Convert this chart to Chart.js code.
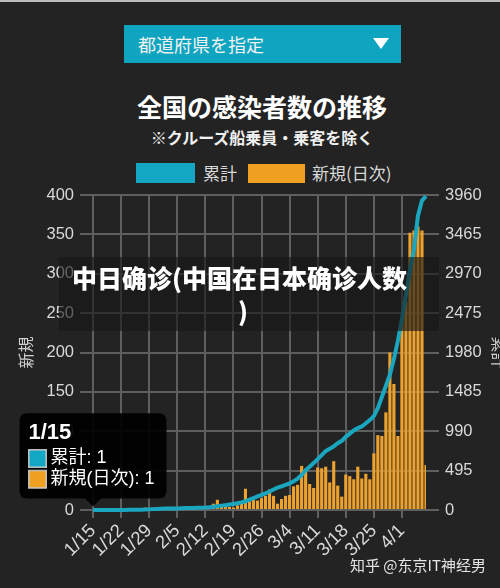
<!DOCTYPE html>
<html>
<head>
<meta charset="utf-8">
<script src="https://cdn.jsdelivr.net/npm/chart.js@4.4.1/dist/chart.umd.min.js"></script>
<style>
  html, body { margin: 0; padding: 0; }
  body { width: 500px; height: 588px; background: #232323; position: relative; overflow: hidden;
         font-family: 'Noto Sans CJK JP', 'Liberation Sans', sans-serif; }
  #topline { position: absolute; left: 0; top: 0; width: 500px; height: 2px; background: #bcbcbc; }
  #pref { position: absolute; left: 124px; top: 25px; width: 277px; height: 38px; background: #0fa4bf; }
  #pref span { position: absolute; left: 14px; top: 0; line-height: 38px; font-size: 18px; color: #f2f2f2; }
  #pref i { position: absolute; left: 249px; top: 13px; width: 0; height: 0;
            border-left: 8px solid transparent; border-right: 8px solid transparent; border-top: 11px solid #fff; }
  #title { position: absolute; left: 0; width: 524px; top: 91px; line-height: 30px; text-align: center;
           font-size: 25px; font-weight: bold; color: #fff; }
  #sub { position: absolute; left: 0; width: 524px; top: 127px; line-height: 20px; text-align: center;
         font-size: 16px; font-weight: bold; color: #f0f0f0; }
  .box { position: absolute; }
  .lbl { position: absolute; top: 163px; line-height: 20px; font-size: 17px; color: #d8d8d8; }
  #c { position: absolute; left: 0; top: 0; }
  #band { position: absolute; left: 59px; top: 257px; width: 380px; height: 74px; background: rgba(22,22,22,0.62);
          font-family: 'Noto Sans CJK SC', sans-serif; font-weight: 900; font-size: 25px; color: #fff; }
  #band span { position: absolute; line-height: 30px; white-space: nowrap; }
  #mark { position: absolute; left: 350px; top: 555px; line-height: 20px; font-size: 15px; color: #e4e4e4;
          font-family: 'Noto Sans CJK SC', sans-serif; white-space: nowrap; }
</style>
</head>
<body>
<div id="topline"></div>
<div id="pref"><span>都道府県を指定</span><i></i></div>
<div id="title">全国の感染者数の推移</div>
<div id="sub">※クルーズ船乗員・乗客を除く</div>
<div class="box" style="left:136px;top:163px;width:59px;height:20px;background:#14a7c3"></div>
<div class="lbl" style="left:203px">累計</div>
<div class="box" style="left:248px;top:164px;width:57px;height:19px;background:#efa020"></div>
<div class="lbl" style="left:312px">新規(日次)</div>
<canvas id="c" width="500" height="588"></canvas>
<div id="band"><span style="left:13px;top:5px">中日确诊(中国在日本确诊人数</span><span style="left:179px;top:38px">)</span></div>
<div id="mark">知乎 @东京IT神经男</div>

<script>
const dates = [
  '1/15','1/16','1/17','1/18','1/19','1/20','1/21','1/22','1/23','1/24','1/25','1/26','1/27','1/28','1/29','1/30','1/31',
  '2/1','2/2','2/3','2/4','2/5','2/6','2/7','2/8','2/9','2/10','2/11','2/12','2/13','2/14','2/15','2/16','2/17','2/18',
  '2/19','2/20','2/21','2/22','2/23','2/24','2/25','2/26','2/27','2/28','2/29',
  '3/1','3/2','3/3','3/4','3/5','3/6','3/7','3/8','3/9','3/10','3/11','3/12','3/13','3/14','3/15','3/16','3/17',
  '3/18','3/19','3/20','3/21','3/22','3/23','3/24','3/25','3/26','3/27','3/28','3/29','3/30','3/31',
  '4/1','4/2','4/3','4/4','4/5','4/6','4/7'
];
const weekTicks = ['1/15','1/22','1/29','2/5','2/12','2/19','2/26','3/4','3/11','3/18','3/25','4/1'];

// 新規(日次)
const newJan = [1,0,0,0,0,0,0,0,0,1,1,1,0,3,1,3,2];
const newFeb = [2,0,0,0,0,0,0,0,1,0,0,1,4,8,13,5,5,4,3,6,8,27,11,13,12,15,18,26,18];
const newMar = [8,14,18,19,30,32,56,49,33,28,54,53,55,35,62,31,17,45,43,39,55,40,46,39,72,95,94,124,200,160,94];
const newApr = [240,265,352,355,360,355,57];

// 累計
const totalJan = [1,1,1,1,1,1,1,1,1,2,3,4,4,7,8,11,14];
const totalFeb = [17,18,19,20,20,22,24,25,26,27,28,30,34,40,48,55,61,68,76,85,96,110,130,150,170,190,210,232,258];
const totalMar = [280,298,315,335,360,395,440,500,545,590,640,690,740,770,800,840,870,920,960,1000,1030,1050,1090,1130,1180,1280,1420,1560,1700,1900,2130];
const totalApr = [2400,2700,3020,3280,3700,3890,3945];

const newTicks = [0,50,100,150,200,250,300,350,400];
const totalTicks = [0,495,990,1485,1980,2475,2970,3465,3960];

const newCases = [...newJan, ...newFeb, ...newMar, ...newApr];
const totalCases = [...totalJan, ...totalFeb, ...totalMar, ...totalApr];

const teal = '#14a7c3';
const orange = '#eea22e';
const gridColor = '#5f5f5f';
const textColor = '#d9d9d9';
const fontFam = "'Liberation Sans', 'Noto Sans CJK JP', sans-serif";

const weekColor = c => weekTicks.includes(dates[c.index]) ? gridColor : 'rgba(0,0,0,0)';

const chart = new Chart(document.getElementById('c'), {
  type: 'bar',
  data: {
    labels: dates,
    datasets: [
      {
        type: 'line', label: '累計', data: totalCases, yAxisID: 'yTotal',
        borderColor: '#1aa6bf', backgroundColor: teal, borderWidth: 4,
        pointRadius: 0, tension: 0, clip: 6
      },
      {
        type: 'bar', label: '新規(日次)', data: newCases, yAxisID: 'yNew',
        backgroundColor: orange, borderWidth: 0, barPercentage: 0.78, categoryPercentage: 1
      }
    ]
  },
  options: {
    responsive: false,
    animation: false,
    layout: { padding: { top: 195, left: 0, right: 0, bottom: 18 } },
    plugins: {
      legend: { display: false },
      tooltip: {
        mode: 'index', intersect: false,
        backgroundColor: 'rgba(0,0,0,0.93)',
        titleColor: '#fff', bodyColor: '#fff',
        titleFont: { family: fontFam, size: 22, weight: 'bold', lineHeight: 1.0 },
        bodyFont: { family: fontFam, size: 18, lineHeight: 1.15 },
        padding: { top: 9, bottom: 9, left: 9, right: 12 },
        titleMarginBottom: 4, bodySpacing: 0,
        caretSize: 8, caretPadding: 3, cornerRadius: 8,
        boxWidth: 18, boxHeight: 18, boxPadding: 2,
        xAlign: 'center', yAlign: 'bottom',
        multiKeyBackground: '#cfcfcf',
        callbacks: {
          labelColor: c => ({ borderColor: '#bbbbbb', borderWidth: 1,
                              backgroundColor: c.datasetIndex === 0 ? teal : '#efa020' })
        }
      }
    },
    scales: {
      x: {
        offset: false,
        grid: { offset: false, color: weekColor, tickColor: weekColor, lineWidth: 2, tickLength: 8 },
        border: { display: true, color: gridColor, width: 2 },
        ticks: {
          autoSkip: false, minRotation: 45, maxRotation: 45, padding: 2,
          color: textColor, font: { family: fontFam, size: 18.5 },
          callback: (v, i) => weekTicks.includes(dates[i]) ? dates[i] : ''
        },
        afterFit: s => { s.height = 60; }
      },
      yNew: {
        position: 'left', min: 0, max: 400,
        afterBuildTicks: s => { s.ticks = newTicks.map(v => ({ value: v })); },
        grid: { color: gridColor, lineWidth: 2, tickLength: 13 },
        border: { display: true, color: gridColor, width: 2 },
        ticks: { color: textColor, padding: 6, font: { family: fontFam, size: 16.5 } },
        title: { display: true, text: '新規', color: '#cfcfcf', padding: { top: 18 },
                 font: { family: fontFam, size: 16 } },
        afterFit: s => { s.width = 93; }
      },
      yTotal: {
        position: 'right', min: 0, max: 3960,
        afterBuildTicks: s => { s.ticks = totalTicks.map(v => ({ value: v })); },
        grid: { drawOnChartArea: false, color: gridColor, lineWidth: 2, tickLength: 13 },
        border: { display: false },
        ticks: { color: textColor, padding: 6, font: { family: fontFam, size: 16.5 },
                 callback: v => String(v) },
        title: { display: true, text: '累計', color: '#cfcfcf', padding: { top: -7 },
                 font: { family: fontFam, size: 16 } },
        afterFit: s => { s.width = 74; }
      }
    }
  }
});

chart.tooltip.setActiveElements(
  [{ datasetIndex: 0, index: 0 }, { datasetIndex: 1, index: 0 }],
  { x: chart.scales.x.getPixelForValue(0), y: chart.scales.yNew.getPixelForValue(1) }
);
chart.update();
</script>
</body>
</html>
